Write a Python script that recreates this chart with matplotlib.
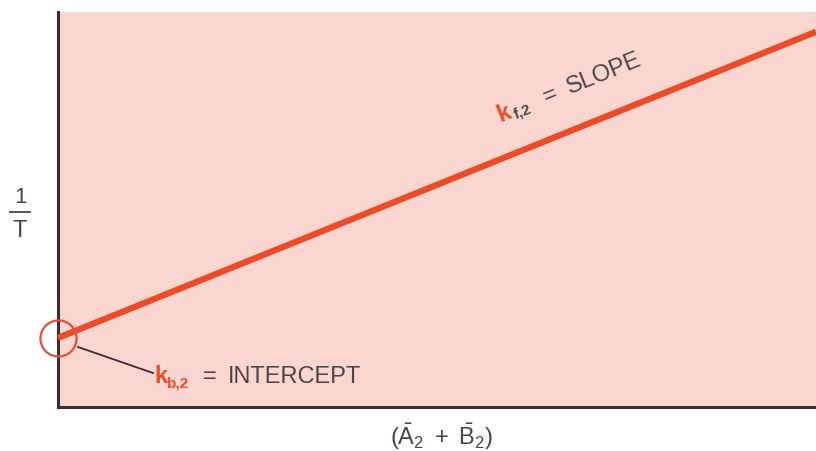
import matplotlib
matplotlib.use("Agg")
import matplotlib.pyplot as plt
from matplotlib.lines import Line2D
import numpy as np

# Linear relation 1/T = k_b,2 + k_f,2 * (A2 + B2)
x_range = [0.0, 1.0]
intercept = 0.175
slope = 0.775

plt.rcParams['font.family'] = ['Liberation Sans', 'DejaVu Sans']
plt.rcParams['mathtext.fontset'] = 'custom'
plt.rcParams['mathtext.rm'] = 'Liberation Sans'
plt.rcParams['mathtext.it'] = 'Liberation Sans'
plt.rcParams['mathtext.bf'] = 'Liberation Sans:bold'

W, H = 816, 451
fig = plt.figure(figsize=(W / 100, H / 100), dpi=100)
fig.patch.set_facecolor('white')


def px(x, y):
    """Pixel position (from top-left) to figure fraction."""
    return x / W, 1 - y / H


left, right, top, bottom = 58, 816, 12, 407
ax = fig.add_axes([left / W, 1 - bottom / H, (right - left) / W, (bottom - top) / H])
ax.set_facecolor('#fad6d0')
ax.set_xlim(0, 1)
ax.set_ylim(0, 1)

for s in ['top', 'right']:
    ax.spines[s].set_visible(False)
for s in ['left', 'bottom']:
    ax.spines[s].set_color('#3b2d30')
    ax.spines[s].set_linewidth(2.2)
ax.set_xticks([])
ax.set_yticks([])

line_color = '#ef4a26'
xs = np.array(x_range)
ax.plot(xs, intercept + slope * xs, color=line_color, lw=4.5,
        solid_capstyle='butt', clip_on=False, zorder=3)

# circle marking the intercept
ax.plot([0], [intercept], 'o', ms=26, mfc='none', mec='#e4513a', mew=1.6,
        clip_on=False, zorder=4)

text_color = '#4d4446'
dark = '#3b2d30'

# leader line to intercept label
fig.add_artist(Line2D([78 / W, 153 / W], [1 - 347 / H, 1 - 373 / H],
                      color=dark, lw=1.3, transform=fig.transFigure))

fig.text(*px(154, 383), 'k', color=line_color, fontsize=17,
         ha='left', va='baseline', fontweight='bold')
fig.text(*px(167, 387), 'b,2', color=line_color, fontsize=11,
         ha='left', va='baseline', fontweight='bold')
fig.text(*px(203, 383), '=', color=text_color, fontsize=17,
         ha='left', va='baseline')
fig.text(*px(228, 383), 'INTERCEPT', color=text_color, fontsize=17,
         ha='left', va='baseline')

# slope label along the line
ang = np.degrees(np.arctan2(slope * (bottom - top), (right - left)))
ca, sa = np.cos(np.radians(ang)), np.sin(np.radians(ang))


def along(d, drop=0.0):
    x0, y0 = 500, 122
    return px(x0 + d * ca + drop * sa, y0 - d * sa + drop * ca)


fig.text(*along(0), 'k', color=line_color, fontsize=17, fontweight='bold',
         rotation=ang, rotation_mode='anchor', ha='left', va='baseline')
fig.text(*along(16, 3), 'f,2', color=text_color, fontsize=11, fontweight='bold',
         rotation=ang, rotation_mode='anchor', ha='left', va='baseline')
fig.text(*along(50), '=', color=text_color, fontsize=17,
         rotation=ang, rotation_mode='anchor', ha='left', va='baseline')
fig.text(*along(75), 'SLOPE', color=text_color, fontsize=17,
         rotation=ang, rotation_mode='anchor', ha='left', va='baseline')

# y-axis label 1/T
fig.text(*px(20, 203), '1', color=text_color, fontsize=16, ha='center', va='baseline')
fig.add_artist(Line2D([10 / W, 30 / W], [1 - 212 / H, 1 - 212 / H],
                      color=text_color, lw=1.3, transform=fig.transFigure))
fig.text(*px(20, 237), 'T', color=text_color, fontsize=17, ha='center', va='baseline')

# x-axis label
fig.text(*px(441, 437), r'$(\bar{\mathrm{A}}_2\ +\ \bar{\mathrm{B}}_2)$',
         color=text_color, fontsize=17, ha='center', va='center')

fig.savefig('out.png', dpi=100)
